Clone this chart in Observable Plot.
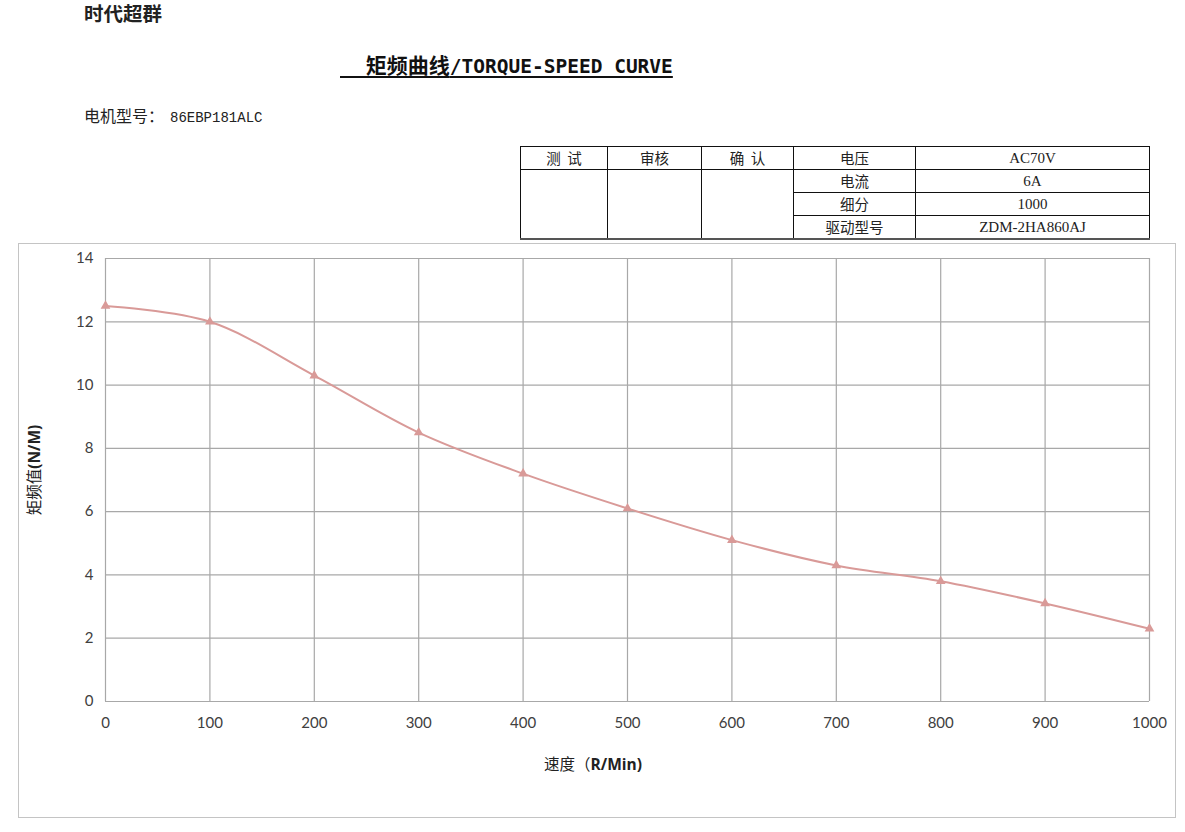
<!DOCTYPE html>
<html>
<head>
<meta charset="utf-8">
<script src="https://cdn.jsdelivr.net/npm/d3@7"></script>
<script src="https://cdn.jsdelivr.net/npm/@observablehq/plot@0.6"></script>
<style>
  html, body { margin: 0; padding: 0; background: #fff; }
  body { width: 1185px; height: 832px; position: relative; overflow: hidden; color: #1a1a1a; }
  .abs { position: absolute; white-space: pre; }
  .cjk { font-family: "Noto Sans CJK SC", sans-serif; }
  #spec { position: absolute; left: 520px; top: 146px; width: 630px; table-layout: fixed; border-collapse: collapse; font-family: "Liberation Serif", "Noto Sans CJK SC", serif; font-size: 15px; color: #222; border-bottom: 2px solid #555; }
  #spec td { border: 1px solid #111; height: 22px; padding: 0; text-align: center; line-height: 22px; white-space: pre; overflow: hidden; }
  #spec td.cj { font-family: "Noto Sans CJK SC", sans-serif; font-size: 14.5px; }
  #chartbox { position: absolute; left: 18px; top: 243px; border: 1.5px solid #c4c4c4; width: 1156px; height: 573px; }
  #chartbox svg { display: block; }
</style>
</head>
<body>
<div class="abs cjk" style="left:84px; top:-2px; font-size:19.5px; font-weight:700; color:#222;">时代超群</div>
<div class="abs" style="left:340px; top:49px; text-decoration: underline; text-decoration-thickness: 2px; text-underline-offset: 3px; color:#111;"><span class="cjk" style="font-size:21px; font-weight:700;">　 矩频曲线</span><span style="font-family:'DejaVu Sans Mono', monospace; font-size:19.5px; font-weight:600;">/TORQUE-SPEED CURVE</span></div>
<div class="abs" style="left:84px; top:103px; color:#222;"><span class="cjk" style="font-size:16px;">电机型号：</span><span style="font-family:'Liberation Mono', monospace; font-size:14px; margin-left:6px;">86EBP181ALC</span></div>

<table id="spec"></table>
<div id="chartbox"></div>
<div class="abs" style="left:544px; top:752px; font-size:15.5px; color:#222;"><span class="cjk">速度（</span><span style="font-family:'Open Sans', sans-serif; font-weight:700;">R/Min)</span></div>
<div class="abs" style="left:33px; top:470px; transform: translate(-50%, -50%) rotate(-90deg); font-size:15.5px; color:#222;"><span class="cjk">矩频值</span><span style="font-family:'Open Sans', sans-serif; font-weight:700;">(N/M)</span></div>

<script>
// ---- data ----
const speeds = [0, 100, 200, 300, 400, 500, 600, 700, 800, 900, 1000];
const torques = [12.5, 12.0, 10.3, 8.5, 7.2, 6.1, 5.1, 4.3, 3.8, 3.1, 2.3];
const xTicks = [0, 100, 200, 300, 400, 500, 600, 700, 800, 900, 1000];
const yTicks = [0, 2, 4, 6, 8, 10, 12, 14];
const headerCells = ["测  试", "审核", "确  认"];
const specNames = ["电压", "电流", "细分", "驱动型号"];
const specValues = ["AC70V", "6A", "1000", "ZDM-2HA860AJ"];

// ---- spec table ----
const colWidths = [87, 94, 92, 122, 234];
const table = document.getElementById("spec");
const cg = document.createElement("colgroup");
colWidths.forEach(w => { const c = document.createElement("col"); c.style.width = w + "px"; cg.appendChild(c); });
table.appendChild(cg);
for (let r = 0; r < specNames.length; r++) {
  const tr = document.createElement("tr");
  if (r === 0) {
    headerCells.forEach(h => {
      const td = document.createElement("td");
      td.textContent = h; td.className = "cj";
      tr.appendChild(td);
    });
  } else if (r === 1) {
    headerCells.forEach(() => {
      const td = document.createElement("td");
      td.rowSpan = specNames.length - 1;
      tr.appendChild(td);
    });
  }
  const tn = document.createElement("td");
  tn.textContent = specNames[r]; tn.className = "cj";
  const tv = document.createElement("td");
  tv.textContent = specValues[r];
  tr.appendChild(tn); tr.appendChild(tv);
  table.appendChild(tr);
}

// ---- chart ----
const data = speeds.map((s, i) => ({speed: s, torque: torques[i]}));
const lineColor = "#d99a98";
const chart = Plot.plot({
  width: 1156,
  height: 573,
  marginLeft: 86,
  marginTop: 14,
  marginRight: 26,
  marginBottom: 116,
  style: {fontFamily: "Lato, 'Open Sans', sans-serif", fontSize: "15px", color: "#404040", background: "#fff", overflow: "visible"},
  x: {domain: [0, 1000], ticks: xTicks, label: null},
  y: {domain: [0, 14], ticks: yTicks, label: null},
  marks: [
    Plot.gridX(xTicks, {stroke: "#a8a8a8", strokeOpacity: 1, strokeWidth: 1.2}),
    Plot.gridY(yTicks, {stroke: "#a8a8a8", strokeOpacity: 1, strokeWidth: 1.2}),
    Plot.axisX(xTicks, {tickSize: 0, tickPadding: 16, fontSize: 15, tickFormat: d => String(d)}),
    Plot.axisY(yTicks, {tickSize: 0, tickPadding: 12, fontSize: 15, tickFormat: d => String(d)}),
    Plot.line(data, {x: "speed", y: "torque", stroke: lineColor, strokeWidth: 2, curve: "catmull-rom"}),
    Plot.dot(data, {x: "speed", y: "torque", symbol: "triangle", r: 3.6, fill: lineColor, stroke: "none"})
  ]
});
document.getElementById("chartbox").appendChild(chart);
</script>
</body>
</html>
